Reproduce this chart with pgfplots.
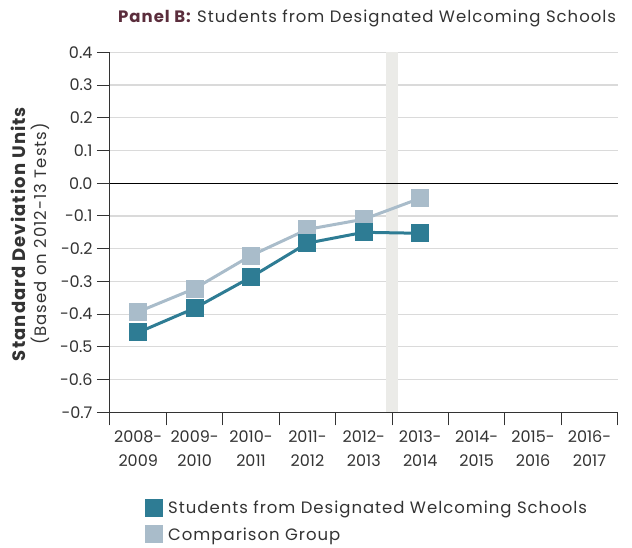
\documentclass[border=0pt]{standalone}
\usepackage{fontspec}
\setmainfont{Poppins}
\newfontfamily\wide[LetterSpace=6]{Poppins}
\usepackage{pgfplots}
\pgfplotsset{compat=1.18}
\definecolor{welc}{HTML}{2E7C94}
\definecolor{comp}{HTML}{A9BCCA}
\definecolor{gridc}{HTML}{DADADA}
\definecolor{bandc}{HTML}{EBEBE8}
\definecolor{txt}{HTML}{333333}
\definecolor{maroon}{HTML}{5B2D3C}
\begin{document}
\begin{tikzpicture}
\begin{axis}[
  width=507.7pt, height=360pt, scale only axis,
  xmin=-0.5, xmax=8.5, ymin=-0.7, ymax=0.4,
  axis lines*=left,
  axis line style={color=txt, line width=1pt},
  every tick/.style={color=txt, line width=1pt},
  tick align=outside, major tick length=13pt,
  xtick={-0.5,0.5,...,8.5}, xticklabels={},
  extra x ticks={0,1,2,3,4,5,6,7,8},
  extra x tick labels={2008-\\2009,2009-\\2010,2010-\\2011,2011-\\2012,2012-\\2013,2013-\\2014,2014-\\2015,2015-\\2016,2016-\\2017},
  extra x tick style={major tick length=0pt, tick label style={align=center, font=\fontsize{16}{24}\selectfont, text=txt, yshift=-15pt}},
  ytick={-0.7,-0.6,-0.5,-0.4,-0.3,-0.2,-0.1,0,0.1,0.2,0.3,0.4},
  yticklabels={\mbox{-0.7},\mbox{-0.6},\mbox{-0.5},\mbox{-0.4},\mbox{-0.3},\mbox{-0.2},\mbox{-0.1},0.0,0.1,0.2,0.3,0.4},
  yticklabel style={font=\fontsize{16}{19}\selectfont, text=txt, xshift=-1pt},
  /pgf/number format/assume math mode=true,
  ymajorgrids, major grid style={color=gridc, line width=1.2pt},
  reverse legend,
  legend cell align=left,
  legend style={at={(axis description cs:0,0)}, anchor=north west, xshift=35pt, yshift=-86pt,
    draw=none, fill=none, inner sep=0pt, row sep=8pt, column sep=3pt,
    font=\wide\fontsize{16.5}{19}\selectfont, text=txt},
  clip=false,
]
\fill[bandc] (axis cs:4.394,-0.7) rectangle (axis cs:4.606,0.4);
\addplot[black, line width=1.2pt, forget plot] coordinates {(-0.5,0) (8.5,0)};
\addplot[comp, line width=3pt, mark=square*, mark size=7.5pt, mark options={solid, draw=none, fill=comp},
  legend image code/.code={\fill[comp] (0pt,-7pt) rectangle (15pt,8pt);}]
  coordinates {(0,-0.393) (1,-0.322) (2,-0.221) (3,-0.141) (4,-0.110) (5,-0.046)};
\addlegendentry{Comparison Group}
\addplot[welc, line width=3pt, mark=square*, mark size=7.5pt, mark options={solid, draw=none, fill=welc},
  legend image code/.code={\fill[welc] (0pt,-7pt) rectangle (15pt,8pt);}]
  coordinates {(0,-0.456) (1,-0.382) (2,-0.287) (3,-0.183) (4,-0.150) (5,-0.153)};
\addlegendentry{Students from Designated Welcoming Schools}
\end{axis}
\node[anchor=base west, inner sep=0pt, font=\wide\fontsize{16.5}{19}\selectfont, text=txt] at (8pt,389.3pt)
  {\textcolor{maroon}{\textbf{Panel B:}} Students from Designated Welcoming Schools};
\node[rotate=90, anchor=base, font=\wide\fontsize{18}{20}\selectfont\bfseries, text=txt] at (-84pt,178.3pt) {Standard Deviation Units};
\node[rotate=90, anchor=base, font=\wide\fontsize{16.5}{19}\selectfont, text=txt] at (-63.5pt,178.3pt) {(Based on 2012-13 Tests)};
\pgfresetboundingbox
\useasboundingbox (-110pt,-134.7pt) rectangle (522pt,412.3pt);
\end{tikzpicture}
\end{document}
